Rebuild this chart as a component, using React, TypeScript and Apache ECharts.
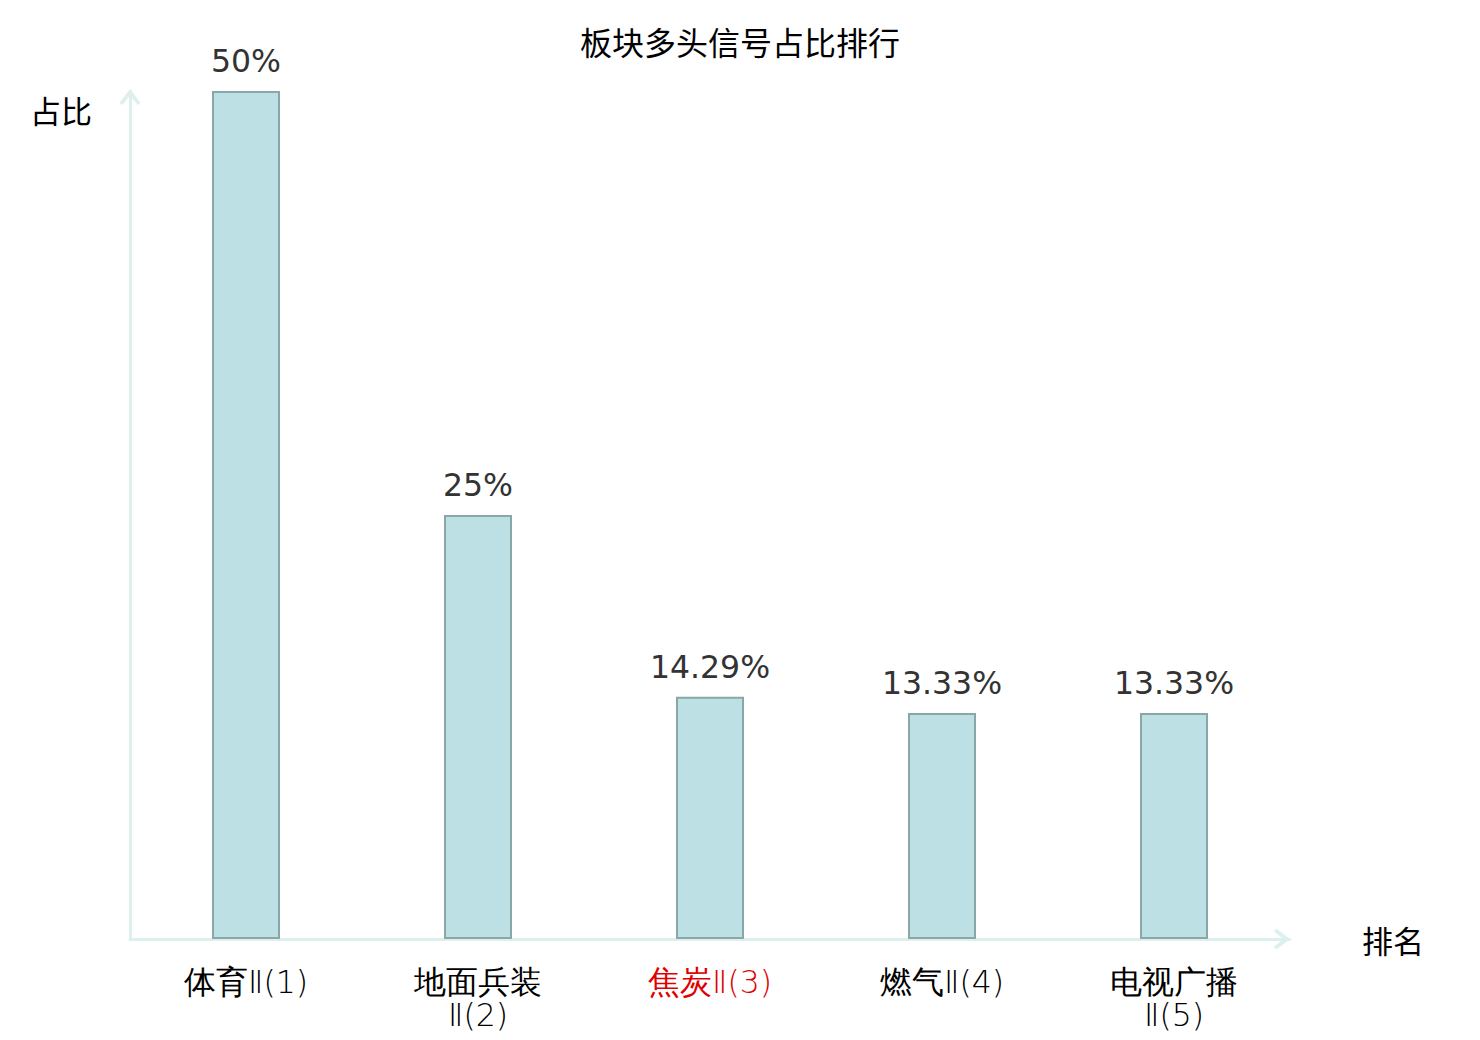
import React, { useEffect, useRef } from "react";
import * as echarts from "echarts";

const titleText = "板块多头信号占比排行";
const categories = ["体育Ⅱ(1)", "地面兵装Ⅱ(2)", "焦炭Ⅱ(3)", "燃气Ⅱ(4)", "电视广播Ⅱ(5)"];
const values = [50, 25, 14.29, 13.33, 13.33];
const valueLabels = ["50%", "25%", "14.29%", "13.33%", "13.33%"];
const highlightIndex = 2;
const xName = "排名";
const yName = "占比";

const chevron = "path://M11 0 L22 14.6 L19 17 L11 7 L3 17 L0 14.6 Z";

export default function App() {
  const ref = useRef<HTMLDivElement>(null);
  useEffect(() => {
    document.body.style.margin = "0";
    if (!ref.current) return;
    const chart = echarts.init(ref.current, null, { renderer: "svg" });
    const axisColor = "#dcf1ee";
    chart.setOption({
      animation: false,
      backgroundColor: "#ffffff",
      title: {
        text: titleText,
        left: "center",
        top: 20,
        textStyle: {
          fontSize: 32,
          fontWeight: "normal",
          color: "#000",
          fontFamily: "Noto Sans CJK SC",
        },
      },
      grid: { left: 130, right: 190, top: 91, bottom: 101, containLabel: false },
      xAxis: {
        type: "category",
        data: categories,
        name: xName,
        nameLocation: "end",
        nameGap: 72,
        nameTextStyle: { fontSize: 31, color: "#000", fontFamily: "Noto Sans CJK SC" },
        axisLine: {
          show: true,
          lineStyle: { color: axisColor, width: 3 },
          symbol: ["none", chevron],
          symbolSize: [21, 17],
          symbolOffset: [0, -8],
        },
        axisTick: { show: false },
        axisLabel: {
          interval: 0,
          margin: 26,
          fontSize: 31.5,
          lineHeight: 33,
          fontFamily: "DejaVu Sans",
          fontWeight: 300,
          color: (_v: any, i: number) => (i === highlightIndex ? "#e00000" : "#000000"),
          formatter: (v: string) => {
            const idx = v.indexOf("Ⅱ");
            return idx > 2 ? v.slice(0, idx) + "\n" + v.slice(idx) : v;
          },
        },
      },
      yAxis: {
        type: "value",
        min: 0,
        max: 50,
        name: yName,
        nameLocation: "end",
        nameGap: -18,
        nameTextStyle: {
          fontSize: 31,
          color: "#000",
          align: "right",
          verticalAlign: "middle",
          padding: [0, 38, 0, 0],
          fontFamily: "Noto Sans CJK SC",
        },
        axisLine: {
          show: true,
          lineStyle: { color: axisColor, width: 3 },
          symbol: ["none", chevron],
          symbolSize: [21, 17],
          symbolOffset: [0, -6],
        },
        axisTick: { show: false },
        axisLabel: { show: false },
        splitLine: { show: false },
      },
      series: [
        {
          type: "bar",
          data: values,
          barWidth: 68,
          itemStyle: { color: "#bce0e3", borderColor: "#8aa6a6", borderWidth: 2 },
          label: {
            show: true,
            position: "top",
            distance: 14,
            fontSize: 31.5,
            color: "#333",
            fontFamily: "DejaVu Sans",
            formatter: (p: any) => valueLabels[p.dataIndex],
          },
        },
      ],
    });
    return () => chart.dispose();
  }, []);
  return <div ref={ref} style={{ width: 1480, height: 1040 }} />;
}
